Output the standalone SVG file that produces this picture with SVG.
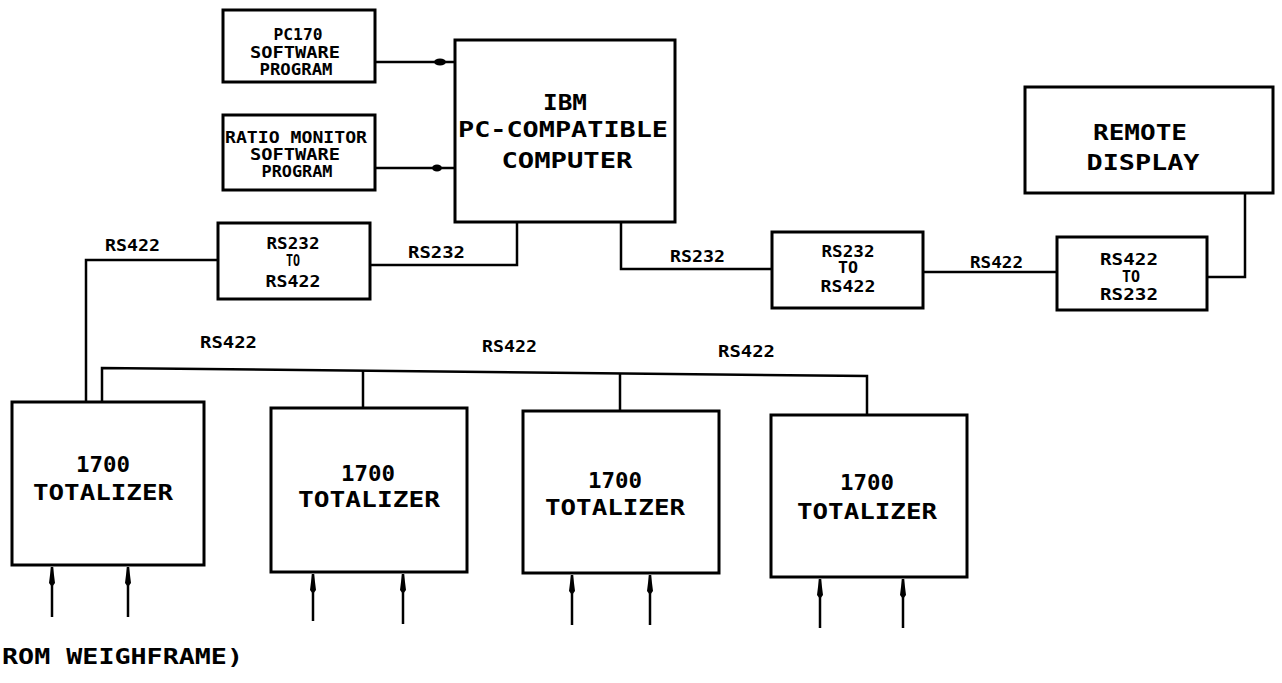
<svg xmlns="http://www.w3.org/2000/svg" width="1282" height="683" viewBox="0 0 1282 683">
<style>
.box{fill:#fff;stroke:#000;stroke-width:3}
.ln{fill:none;stroke:#000;stroke-width:2.5}
.big{font-family:"DejaVu Sans Mono","Liberation Mono",monospace;font-weight:bold;font-size:22px;fill:#000;text-anchor:middle}
.sm{font-family:"DejaVu Sans Mono","Liberation Mono",monospace;font-weight:bold;font-size:15px;fill:#000;text-anchor:middle}
.lbl{font-family:"DejaVu Sans Mono","Liberation Mono",monospace;font-weight:bold;font-size:15px;fill:#000}
</style>
<defs>
<marker id="ah" viewBox="0 0 20 8" refX="20" refY="4" markerWidth="20" markerHeight="8" markerUnits="userSpaceOnUse" orient="auto">
<path d="M0,4 L4,1 L20,3 L20,5 L4,7 Z" fill="#000"/>
</marker>
</defs>
<rect width="1282" height="683" fill="#fff"/>

<g id="connectors">
<path class="ln" d="M375,62 H455"/>
<ellipse cx="440" cy="62" rx="6" ry="3.5" fill="#000"/>
<path class="ln" d="M375,168 H455"/>
<ellipse cx="437" cy="168" rx="5" ry="3.5" fill="#000"/>
<path class="ln" d="M517,222 V265 H370"/>
<path class="ln" d="M218,260 H86 V402"/>
<path class="ln" d="M621,222 V269 H772"/>
<path class="ln" d="M923,272 H1057"/>
<path class="ln" d="M1207,277 H1245 V193"/>
<path class="ln" d="M102,402 V368 L867,376 V415"/>
<path class="ln" d="M363,371 V408"/>
<path class="ln" d="M620,373 V411"/>
<path class="ln" d="M52,617 V567" marker-end="url(#ah)"/>
<path class="ln" d="M128,617 V567" marker-end="url(#ah)"/>
<path class="ln" d="M313,621 V574" marker-end="url(#ah)"/>
<path class="ln" d="M403,624 V574" marker-end="url(#ah)"/>
<path class="ln" d="M572,625 V575" marker-end="url(#ah)"/>
<path class="ln" d="M650,625 V575" marker-end="url(#ah)"/>
<path class="ln" d="M820,628 V579" marker-end="url(#ah)"/>
<path class="ln" d="M903,628 V579" marker-end="url(#ah)"/>
<text class="lbl" x="105" y="251" textLength="55" lengthAdjust="spacingAndGlyphs">RS422</text>
<text class="lbl" x="408" y="258" textLength="57" lengthAdjust="spacingAndGlyphs">RS232</text>
<text class="lbl" x="670" y="262" textLength="55" lengthAdjust="spacingAndGlyphs">RS232</text>
<text class="lbl" x="970" y="268" textLength="53" lengthAdjust="spacingAndGlyphs">RS422</text>
<text class="lbl" x="200" y="348" textLength="57" lengthAdjust="spacingAndGlyphs">RS422</text>
<text class="lbl" x="482" y="352" textLength="55" lengthAdjust="spacingAndGlyphs">RS422</text>
<text class="lbl" x="718" y="357" textLength="57" lengthAdjust="spacingAndGlyphs">RS422</text>
</g>

<g id="pc170">
<rect class="box" x="223" y="10" width="152" height="72"/>
<text class="sm" x="298" y="40" textLength="49" lengthAdjust="spacingAndGlyphs">PC170</text>
<text class="sm" x="295" y="58" textLength="90" lengthAdjust="spacingAndGlyphs">SOFTWARE</text>
<text class="sm" x="296" y="75" textLength="73" lengthAdjust="spacingAndGlyphs">PROGRAM</text>
</g>

<g id="ratio-monitor">
<rect class="box" x="223" y="115" width="152" height="75"/>
<text class="sm" x="296" y="143" textLength="142" lengthAdjust="spacingAndGlyphs">RATIO MONITOR</text>
<text class="sm" x="295" y="160" textLength="90" lengthAdjust="spacingAndGlyphs">SOFTWARE</text>
<text class="sm" x="297" y="177" textLength="71" lengthAdjust="spacingAndGlyphs">PROGRAM</text>
</g>

<g id="computer">
<rect class="box" x="455" y="40" width="220" height="182"/>
<text class="big" x="565" y="110" textLength="44" lengthAdjust="spacingAndGlyphs">IBM</text>
<text class="big" x="563" y="137" textLength="210" lengthAdjust="spacingAndGlyphs">PC-COMPATIBLE</text>
<text class="big" x="567" y="168" textLength="131" lengthAdjust="spacingAndGlyphs">COMPUTER</text>
</g>

<g id="remote-display">
<rect class="box" x="1025" y="87" width="248" height="106"/>
<text class="big" x="1140" y="140" textLength="94" lengthAdjust="spacingAndGlyphs">REMOTE</text>
<text class="big" x="1143" y="170" textLength="113" lengthAdjust="spacingAndGlyphs">DISPLAY</text>
</g>

<g id="conv-left">
<rect class="box" x="218" y="223" width="152" height="76"/>
<text class="sm" x="293" y="249" textLength="53" lengthAdjust="spacingAndGlyphs">RS232</text>
<text class="sm" x="293" y="266" textLength="14" lengthAdjust="spacingAndGlyphs">TO</text>
<text class="sm" x="293" y="287" textLength="55" lengthAdjust="spacingAndGlyphs">RS422</text>
</g>

<g id="conv-mid">
<rect class="box" x="772" y="232" width="151" height="76"/>
<text class="sm" x="848" y="257" textLength="53" lengthAdjust="spacingAndGlyphs">RS232</text>
<text class="sm" x="848" y="273" textLength="20" lengthAdjust="spacingAndGlyphs">TO</text>
<text class="sm" x="848" y="292" textLength="55" lengthAdjust="spacingAndGlyphs">RS422</text>
</g>

<g id="conv-right">
<rect class="box" x="1057" y="237" width="150" height="73"/>
<text class="sm" x="1129" y="265" textLength="58" lengthAdjust="spacingAndGlyphs">RS422</text>
<text class="sm" x="1131" y="282" textLength="18" lengthAdjust="spacingAndGlyphs">TO</text>
<text class="sm" x="1129" y="300" textLength="58" lengthAdjust="spacingAndGlyphs">RS232</text>
</g>

<g id="totalizer-1">
<rect class="box" x="12" y="402" width="192" height="163"/>
<text class="big" x="103" y="472" textLength="54" lengthAdjust="spacingAndGlyphs">1700</text>
<text class="big" x="103" y="500" textLength="140" lengthAdjust="spacingAndGlyphs">TOTALIZER</text>
</g>

<g id="totalizer-2">
<rect class="box" x="271" y="408" width="196" height="164"/>
<text class="big" x="368" y="481" textLength="54" lengthAdjust="spacingAndGlyphs">1700</text>
<text class="big" x="369" y="507" textLength="142" lengthAdjust="spacingAndGlyphs">TOTALIZER</text>
</g>

<g id="totalizer-3">
<rect class="box" x="523" y="411" width="196" height="162"/>
<text class="big" x="615" y="488" textLength="54" lengthAdjust="spacingAndGlyphs">1700</text>
<text class="big" x="615" y="515" textLength="140" lengthAdjust="spacingAndGlyphs">TOTALIZER</text>
</g>

<g id="totalizer-4">
<rect class="box" x="771" y="415" width="196" height="162"/>
<text class="big" x="867" y="490" textLength="54" lengthAdjust="spacingAndGlyphs">1700</text>
<text class="big" x="867" y="519" textLength="140" lengthAdjust="spacingAndGlyphs">TOTALIZER</text>
</g>

<text class="big" x="2" y="664" style="text-anchor:start" textLength="241" lengthAdjust="spacingAndGlyphs">ROM WEIGHFRAME)</text>
</svg>
